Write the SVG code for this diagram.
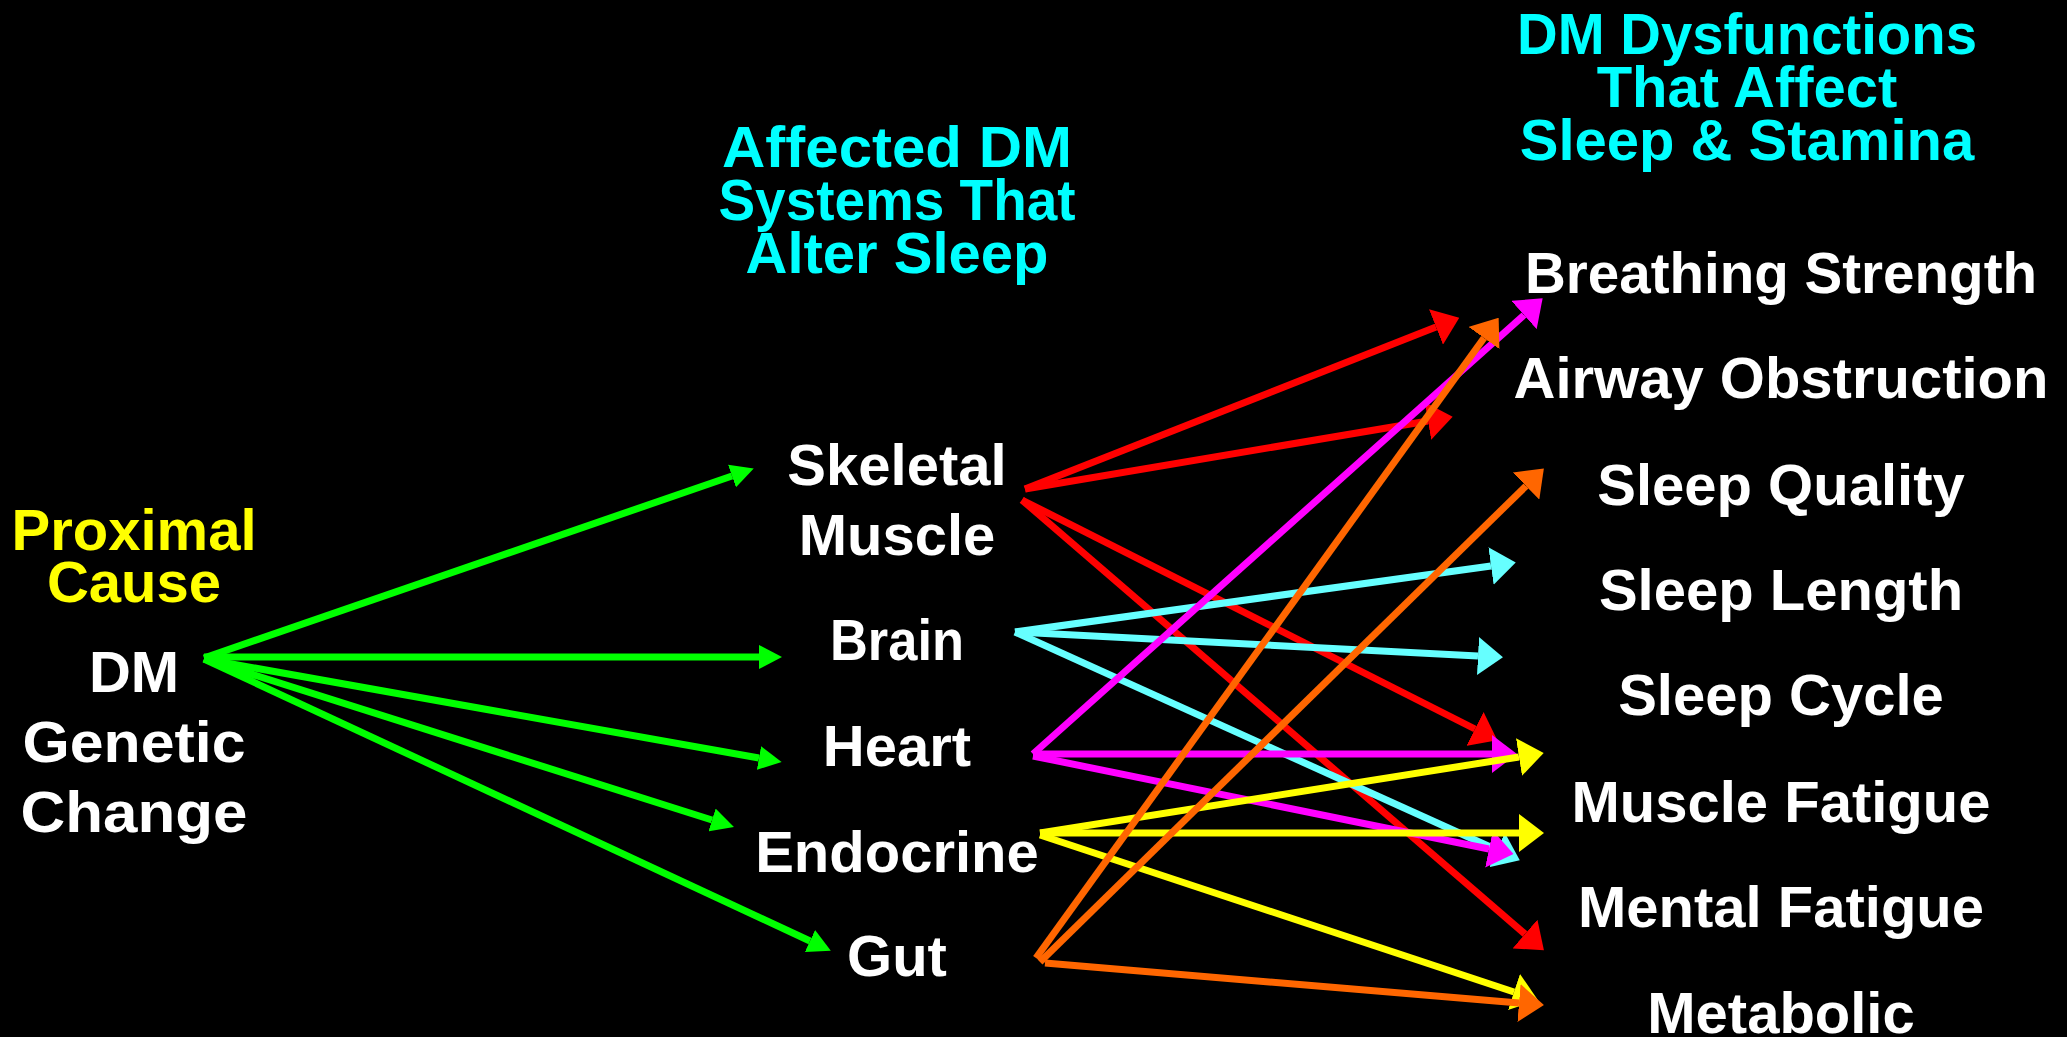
<svg xmlns="http://www.w3.org/2000/svg" width="2067" height="1037" viewBox="0 0 2067 1037">
<style>
text{font-family:"Liberation Sans",Arial,sans-serif;font-weight:bold;font-size:58px;text-anchor:middle}
.w{fill:#FFFFFF}.y{fill:#FFFF00}.c{fill:#00FFFF}
.ln{fill:none;stroke-width:7;stroke-linecap:butt}
.g{stroke:#00FF00;marker-end:url(#hg)}
.r{stroke:#FF0000;marker-end:url(#hr)}
.cy{stroke:#66FFFF;marker-end:url(#hc)}
.m{stroke:#FF00FF;marker-end:url(#hm)}
.ye{stroke:#FFFF00;marker-end:url(#hy)}
.o{stroke:#FF6600;marker-end:url(#ho)}
</style>
<defs>
<marker id="hg" markerUnits="userSpaceOnUse" viewBox="0 0 23 24" markerWidth="23" markerHeight="24" refX="0" refY="12" orient="auto"><path d="M0,0 L23,12 L0,24 z" fill="#00FF00"/></marker>
<marker id="hr" markerUnits="userSpaceOnUse" viewBox="0 0 25 38" markerWidth="25" markerHeight="38" refX="0" refY="19" orient="auto"><path d="M0,0 L25,19 L0,38 z" fill="#FF0000"/></marker>
<marker id="hc" markerUnits="userSpaceOnUse" viewBox="0 0 25 38" markerWidth="25" markerHeight="38" refX="0" refY="19" orient="auto"><path d="M0,0 L25,19 L0,38 z" fill="#66FFFF"/></marker>
<marker id="hm" markerUnits="userSpaceOnUse" viewBox="0 0 25 38" markerWidth="25" markerHeight="38" refX="0" refY="19" orient="auto"><path d="M0,0 L25,19 L0,38 z" fill="#FF00FF"/></marker>
<marker id="hy" markerUnits="userSpaceOnUse" viewBox="0 0 25 38" markerWidth="25" markerHeight="38" refX="0" refY="19" orient="auto"><path d="M0,0 L25,19 L0,38 z" fill="#FFFF00"/></marker>
<marker id="ho" markerUnits="userSpaceOnUse" viewBox="0 0 25 38" markerWidth="25" markerHeight="38" refX="0" refY="19" orient="auto"><path d="M0,0 L25,19 L0,38 z" fill="#FF6600"/></marker>
</defs>
<rect x="0" y="0" width="2067" height="1037" fill="#000000"/>

<g id="headings">
<text class="y" x="134" y="550">Proximal</text>
<text class="y" x="134" y="602">Cause</text>
<text class="c" x="897" y="167" textLength="350" lengthAdjust="spacingAndGlyphs">Affected DM</text>
<text class="c" x="897" y="220" textLength="357" lengthAdjust="spacingAndGlyphs">Systems That</text>
<text class="c" x="897" y="273">Alter Sleep</text>
<text class="c" x="1747" y="54" textLength="460" lengthAdjust="spacingAndGlyphs">DM Dysfunctions</text>
<text class="c" x="1747" y="107">That Affect</text>
<text class="c" x="1747" y="160">Sleep &amp; Stamina</text>
</g>

<g id="node-dm">
<text class="w" x="134" y="692">DM</text>
<text class="w" x="134" y="762" textLength="223" lengthAdjust="spacingAndGlyphs">Genetic</text>
<text class="w" x="134" y="832" textLength="227" lengthAdjust="spacingAndGlyphs">Change</text>
</g>
<g id="node-skeletal"><text class="w" x="897" y="485">Skeletal</text><text class="w" x="897" y="555">Muscle</text></g>
<g id="node-brain"><text class="w" x="897" y="660" textLength="134" lengthAdjust="spacingAndGlyphs">Brain</text></g>
<g id="node-heart"><text class="w" x="897" y="766">Heart</text></g>
<g id="node-endocrine"><text class="w" x="897" y="872">Endocrine</text></g>
<g id="node-gut"><text class="w" x="897" y="976">Gut</text></g>

<g id="node-breathing"><text class="w" x="1781" y="293" textLength="512" lengthAdjust="spacingAndGlyphs">Breathing Strength</text></g>
<g id="node-airway"><text class="w" x="1781" y="398">Airway Obstruction</text></g>
<g id="node-quality"><text class="w" x="1781" y="505">Sleep Quality</text></g>
<g id="node-length"><text class="w" x="1781" y="610">Sleep Length</text></g>
<g id="node-cycle"><text class="w" x="1781" y="715">Sleep Cycle</text></g>
<g id="node-musclefatigue"><text class="w" x="1781" y="822">Muscle Fatigue</text></g>
<g id="node-mentalfatigue"><text class="w" x="1781" y="927">Mental Fatigue</text></g>
<g id="node-metabolic"><text class="w" x="1781" y="1033">Metabolic</text></g>

<g id="connectors">
<path class="ln g" d="M204,658 L732,476"/>
<path class="ln g" d="M204,657 L759,657"/>
<path class="ln g" d="M204,659 L759,758"/>
<path class="ln g" d="M204,659 L712,820"/>
<path class="ln g" d="M204,659 L810,941"/>

<path class="ln r" d="M1025,489 L1436,327"/>
<path class="ln r" d="M1025,489 L1428,421"/>
<path class="ln r" d="M1022,500 L1475,729"/>
<path class="ln r" d="M1022,500 L1525,934"/>

<path class="ln cy" d="M1015,632 L1491,566"/>
<path class="ln cy" d="M1015,632 L1478,656"/>
<path class="ln cy" d="M1015,632 L1497,850"/>

<path class="ln m" d="M1033,754 L1524,315"/>
<path class="ln m" d="M1033,754 L1492,754"/>
<path class="ln m" d="M1033,756 L1489,849"/>

<path class="ln ye" d="M1040,833 L1519,757"/>
<path class="ln ye" d="M1040,833 L1519,833"/>
<path class="ln ye" d="M1040,835 L1514,992"/>

<path class="ln o" d="M1036,958 L1484,338"/>
<path class="ln o" d="M1040,962 L1526,486"/>
<path class="ln o" d="M1045,963 L1519,1003"/>
</g>
</svg>
